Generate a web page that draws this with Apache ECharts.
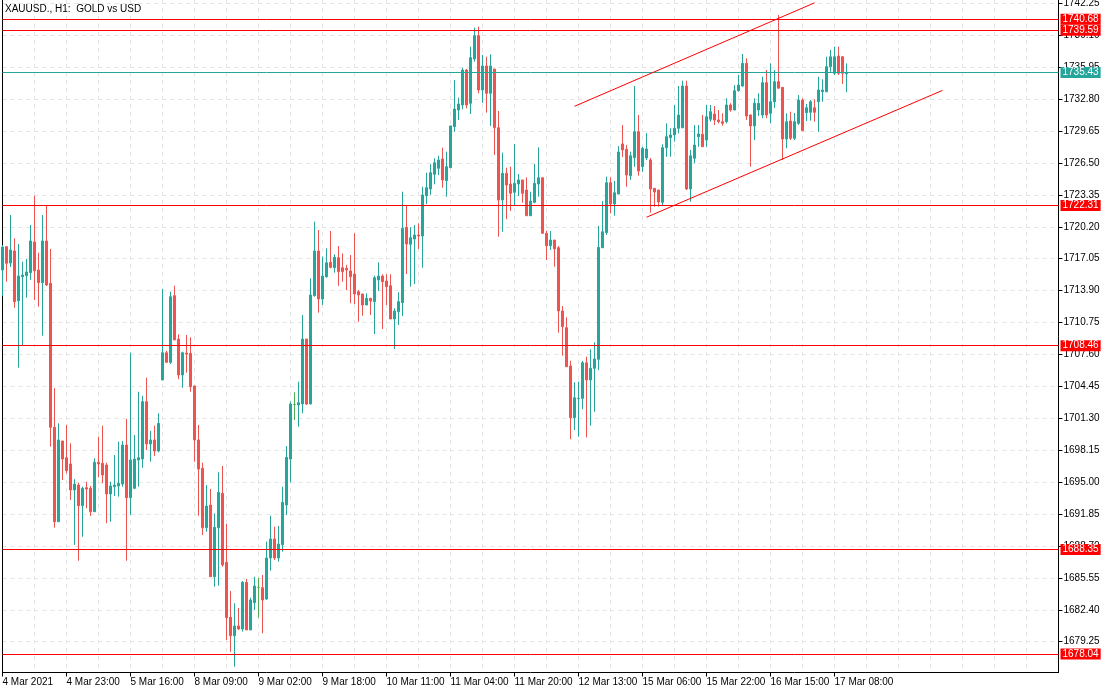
<!DOCTYPE html>
<html><head><meta charset="utf-8">
<script src="https://cdn.jsdelivr.net/npm/echarts@6/dist/echarts.min.js"></script>
<style>html,body{margin:0;padding:0;background:#fff}#c{width:1110px;height:694px}</style>
</head><body><div id="c"></div>
<script>
// XAUUSD H1 candles: open, close, low, high
const opens = [
1715.93,1718.23,1716.62,1717.81,1712.90,1715.27,1715.37,1715.67,1718.70,1715.93,
1714.68,1718.80,1714.62,1700.41,1691.09,1699.06,1697.41,1696.79,1694.22,1694.71,
1692.67,1694.45,1694.39,1692.08,1696.96,1696.86,1696.69,1693.83,1694.55,1694.62,
1694.81,1698.66,1693.46,1694.39,1697.18,1697.28,1702.94,1698.76,1699.16,1698.07,
1705.08,1707.77,1706.82,1713.40,1709.12,1705.57,1707.74,1707.71,1704.49,1699.16,
1696.36,1690.50,1692.74,1685.66,1690.50,1693.90,1687.09,1681.66,1679.84,1680.80,
1680.50,1685.11,1680.41,1683.10,1684.62,1684.58,1683.46,1687.51,1689.39,1687.51,
1688.82,1692.74,1697.28,1702.66,1702.61,1702.71,1709.12,1702.71,1713.40,1717.81,
1713.07,1715.27,1716.69,1716.16,1717.15,1716.16,1716.10,1715.84,1715.54,1713.79,
1713.57,1712.48,1713.14,1712.81,1714.95,1715.34,1714.85,1714.38,1711.10,1711.82,
1712.71,1720.15,1718.47,1718.99,1719.39,1719.29,1723.27,1723.93,1725.38,1725.97,
1726.89,1724.75,1726.03,1730.08,1731.72,1732.22,1735.67,1732.39,1736.76,1739.06,
1733.70,1736.07,1733.37,1735.77,1729.98,1722.84,1725.48,1724.42,1723.60,1724.42,
1724.82,1723.83,1721.29,1722.61,1724.42,1725.04,1719.56,1718.33,1718.89,1718.13,
1711.89,1710.24,1706.46,1701.36,1703.23,1703.27,1706.78,1705.08,1706.23,1707.12,
1718.13,1719.62,1724.55,1722.45,1723.43,1728.37,1727.85,1725.24,1727.02,1729.58,
1726.13,1726.99,1726.79,1723.99,1723.83,1722.61,1728.00,1728.99,1729.26,1729.92,
1729.98,1734.09,1723.93,1726.96,1729.09,1729.33,1728.76,1730.81,1731.33,1730.74,
1730.57,1730.57,1732.22,1731.72,1733.63,1734.09,1736.33,1731.23,1730.15,1731.72,
1731.23,1734.42,1731.40,1732.54,1734.52,1733.96,1728.86,1730.64,1728.93,1730.41,
1732.71,1731.46,1731.50,1731.95,1732.54,1733.53,1733.53,1736.00,1735.35,1737.05,
1736.98,1735.30];
const closes = [
1718.20,1716.59,1717.91,1712.81,1715.34,1715.44,1715.74,1718.80,1715.86,1714.68,
1718.80,1714.45,1700.41,1691.09,1699.16,1697.28,1696.13,1694.22,1694.81,1692.67,
1694.39,1694.32,1692.08,1696.96,1696.79,1695.70,1693.83,1694.62,1694.71,1694.88,
1698.66,1693.46,1697.18,1697.28,1697.41,1702.94,1698.76,1699.16,1698.07,1700.80,
1707.77,1706.82,1713.30,1709.03,1705.57,1707.77,1707.64,1704.42,1699.16,1696.29,
1690.50,1692.64,1685.66,1690.54,1693.99,1686.82,1681.62,1679.84,1680.80,1680.50,
1685.11,1680.41,1683.37,1684.75,1684.62,1683.37,1687.51,1689.39,1687.51,1688.89,
1693.01,1697.45,1702.71,1702.66,1702.84,1709.12,1702.71,1713.47,1717.81,1713.07,
1715.34,1716.65,1716.20,1717.19,1715.77,1715.77,1715.93,1715.27,1713.57,1713.47,
1712.48,1713.14,1712.87,1715.17,1715.34,1714.78,1714.29,1711.10,1711.89,1712.81,
1720.05,1718.50,1719.12,1719.39,1719.29,1723.34,1724.06,1725.54,1726.52,1726.79,
1724.82,1726.13,1730.15,1731.82,1732.32,1735.67,1732.22,1736.89,1739.06,1733.70,
1736.07,1733.37,1736.07,1729.98,1722.84,1725.48,1724.32,1723.50,1724.49,1724.82,
1723.50,1721.29,1722.74,1724.49,1725.04,1719.56,1718.33,1718.89,1718.01,1711.89,
1710.34,1706.39,1701.36,1703.33,1703.27,1706.78,1705.08,1706.23,1707.15,1718.17,
1719.71,1724.55,1722.45,1723.56,1727.58,1727.78,1725.31,1727.21,1729.58,1725.70,
1727.94,1727.88,1723.93,1723.63,1722.65,1728.00,1729.09,1729.26,1729.92,1731.23,
1734.09,1723.93,1727.21,1728.27,1729.36,1728.10,1731.06,1731.56,1730.74,1730.57,
1730.41,1732.22,1731.72,1733.63,1734.19,1736.33,1731.13,1730.15,1732.39,1732.39,
1734.42,1731.23,1732.54,1734.52,1733.87,1728.86,1730.57,1728.93,1730.57,1732.71,
1729.68,1731.95,1732.54,1731.50,1733.70,1733.70,1736.00,1736.98,1736.98,1735.35,
1735.35,1735.43];
const lows = [
1713.37,1714.78,1716.23,1712.21,1706.29,1708.53,1713.20,1714.95,1712.97,1712.31,
1709.45,1714.35,1698.50,1690.50,1691.09,1695.21,1695.87,1693.24,1688.80,1687.24,
1689.61,1692.42,1691.66,1692.08,1695.47,1694.88,1690.94,1691.09,1693.63,1693.56,
1694.55,1687.24,1691.76,1694.29,1694.55,1696.42,1698.17,1697.01,1697.58,1697.94,
1705.08,1706.78,1706.66,1709.03,1705.15,1704.32,1705.80,1703.92,1697.01,1691.69,
1689.78,1690.11,1685.66,1684.68,1684.78,1686.65,1679.42,1678.26,1676.78,1680.41,
1680.24,1680.41,1680.41,1682.38,1681.62,1680.08,1683.37,1686.26,1687.31,1687.15,
1688.13,1691.76,1694.98,1701.13,1700.47,1701.79,1702.61,1702.71,1713.30,1711.72,
1712.48,1715.17,1716.10,1715.67,1714.38,1714.78,1713.96,1712.65,1712.58,1710.83,
1711.42,1712.48,1711.49,1709.62,1713.86,1710.11,1712.48,1711.10,1708.14,1710.51,
1711.39,1715.54,1714.29,1714.55,1718.01,1716.16,1722.45,1723.34,1724.39,1725.31,
1724.06,1723.17,1726.00,1729.58,1730.74,1731.79,1731.89,1731.33,1736.49,1733.37,
1732.44,1731.46,1730.15,1727.28,1719.22,1719.71,1720.94,1721.76,1722.35,1723.24,
1722.58,1721.29,1721.29,1722.52,1723.17,1719.56,1716.92,1717.91,1716.26,1709.75,
1707.48,1706.39,1699.23,1700.14,1699.48,1702.19,1699.42,1700.57,1701.95,1706.07,
1718.13,1719.39,1721.53,1721.29,1723.43,1727.09,1724.15,1724.82,1726.13,1725.24,
1725.63,1726.79,1721.59,1722.18,1722.18,1722.35,1727.11,1727.11,1728.60,1729.42,
1729.92,1723.83,1722.67,1726.46,1728.10,1728.10,1728.10,1730.57,1730.24,1730.41,
1730.17,1730.41,1731.56,1731.72,1733.53,1734.02,1730.74,1726.13,1728.76,1731.13,
1730.91,1730.91,1730.41,1731.92,1733.87,1726.79,1727.94,1728.76,1728.76,1730.24,
1729.68,1730.64,1730.67,1730.57,1729.58,1732.54,1733.47,1735.50,1735.18,1735.18,
1734.29,1733.47];
const highs = [
1718.40,1718.30,1721.36,1719.06,1718.50,1716.75,1717.02,1720.37,1723.27,1717.64,
1721.36,1722.28,1718.01,1704.26,1700.80,1699.06,1700.64,1698.83,1695.28,1694.94,
1694.55,1695.04,1694.62,1697.35,1699.48,1700.57,1696.92,1695.04,1697.67,1698.99,
1699.06,1701.23,1707.77,1699.65,1703.92,1703.53,1705.30,1700.05,1700.57,1701.79,
1714.06,1707.97,1713.79,1714.38,1709.59,1707.87,1709.52,1709.29,1704.49,1700.64,
1696.92,1694.71,1694.32,1691.92,1695.97,1696.59,1690.87,1684.25,1683.04,1682.58,
1685.24,1685.44,1683.59,1685.66,1685.54,1685.83,1689.12,1691.69,1690.60,1690.67,
1694.55,1698.56,1702.94,1703.86,1704.91,1711.49,1709.12,1715.11,1720.70,1719.88,
1717.25,1718.07,1719.78,1717.48,1718.30,1717.58,1716.43,1717.41,1719.56,1713.96,
1713.57,1713.63,1713.14,1715.37,1716.69,1715.51,1715.51,1715.51,1712.15,1713.73,
1723.66,1722.28,1720.15,1720.37,1720.54,1724.15,1725.54,1726.37,1726.96,1727.21,
1728.00,1727.61,1730.15,1734.69,1732.94,1735.90,1735.77,1737.97,1739.85,1739.95,
1737.15,1736.98,1737.22,1735.77,1731.63,1727.51,1726.03,1726.13,1728.37,1725.41,
1724.82,1725.08,1723.66,1726.39,1728.04,1725.04,1719.81,1719.78,1718.89,1718.30,
1712.38,1711.27,1706.98,1704.85,1704.91,1706.95,1707.38,1708.11,1708.80,1720.28,
1722.74,1725.14,1725.08,1724.72,1728.17,1730.24,1728.27,1727.61,1734.09,1731.23,
1728.10,1729.45,1726.99,1724.03,1723.83,1728.34,1730.41,1729.92,1732.22,1734.09,
1734.62,1734.62,1727.78,1730.24,1730.24,1731.23,1732.22,1732.22,1732.12,1731.72,
1731.40,1732.88,1732.39,1734.19,1735.18,1737.25,1736.83,1731.30,1732.88,1733.37,
1735.01,1735.67,1736.33,1735.67,1741.10,1733.96,1731.40,1731.56,1731.43,1733.20,
1732.88,1732.32,1732.71,1732.78,1735.01,1734.76,1736.98,1737.65,1737.97,1737.97,
1737.05,1736.33];

const slotCount = 265; // bar slots on the time axis (incl. empty right margin)
const xTickIndex = [0,16,32,48,64,80,96,112,128,144,160,176,192,208];
const xTickLabels = ['4 Mar 2021','4 Mar 23:00','5 Mar 16:00','8 Mar 09:00','9 Mar 02:00','9 Mar 18:00',
  '10 Mar 11:00','11 Mar 04:00','11 Mar 20:00','12 Mar 13:00','15 Mar 06:00','15 Mar 22:00','16 Mar 15:00','17 Mar 08:00'];
const yTicks = [1679.25,1682.40,1685.55,1688.70,1691.85,1695.00,1698.15,1701.30,1704.45,1707.60,1710.75,
  1713.90,1717.05,1720.20,1723.35,1726.50,1729.65,1732.80,1735.95,1739.10,1742.25];
const redLevels = [1740.68,1739.59,1722.31,1708.46,1688.35,1678.04];
const bidLevel = 1735.43;
const channelUpper = [[143,1732.09],[203,1742.30]];
const channelLower = [[161,1721.14],[235,1733.66]];

const UP = '#26a69a', DOWN = '#ef5350', DOJI = '#4caf50', RED = '#ff0000';
const FONT = 'Liberation Sans';

const categories = Array.from({length: slotCount}, (_, i) => String(i));
const candles = opens.map((o, i) => {
  const v = [o, closes[i], lows[i], highs[i]];
  if (o === closes[i]) {
    return {value: v, itemStyle: {color: DOJI, color0: DOJI, borderColor: DOJI, borderColor0: DOJI, borderColorDoji: DOJI}};
  }
  return v;
});

const levelLine = (v, color) => ({
  yAxis: v,
  lineStyle: {color: color, width: 1, type: 'solid'},
  label: {show: true, position: 'end', distance: 2, formatter: () => v.toFixed(2),
    color: '#fff', backgroundColor: color, padding: [1, 2, 0, 2], fontSize: 10, fontFamily: FONT}
});
const trend = (pts) => [
  {coord: pts[0], lineStyle: {color: RED, width: 1, type: 'solid'}, label: {show: false}},
  {coord: pts[1]}
];

const chart = echarts.init(document.getElementById('c'), null, {renderer: 'canvas'});
chart.setOption({
  animation: false,
  backgroundColor: '#fff',
  title: {text: 'XAUUSD., H1:  GOLD vs USD', left: 5, top: 4, padding: 0,
    textStyle: {fontSize: 10, fontWeight: 'normal', color: '#000', fontFamily: FONT}},
  grid: {left: 2.5, right: 51.5, top: 0, bottom: 21.5, containLabel: false, outerBoundsMode: 'none'},
  xAxis: {
    type: 'category', data: categories, boundaryGap: false,
    axisLine: {show: true, lineStyle: {color: '#000', width: 1}},
    axisTick: {show: true, length: 4, interval: (i) => xTickIndex.includes(i), lineStyle: {color: '#000'}},
    axisLabel: {show: true, interval: (i) => xTickIndex.includes(i), align: 'left', margin: 5,
      color: '#000', fontSize: 10, fontFamily: FONT, hideOverlap: false,
      formatter: (v, i) => { const k = xTickIndex.indexOf(i); return k >= 0 ? xTickLabels[k] : ''; }},
    splitLine: {show: true, interval: (i) => i % 8 === 0, lineStyle: {color: '#e4e4e4', type: [4, 4], width: 1}}
  },
  yAxis: [{
    type: 'value', position: 'right', min: 1676.21, max: 1742.58, scale: true,
    axisLine: {show: true, lineStyle: {color: '#000', width: 1}},
    axisTick: {show: true, length: 4, customValues: yTicks, lineStyle: {color: '#000'}},
    axisLabel: {show: true, customValues: yTicks, margin: 5, color: '#000', fontSize: 10, fontFamily: FONT,
      formatter: (v) => v.toFixed(2)},
    splitLine: {show: true, lineStyle: {color: '#e4e4e4', type: [4, 4], width: 1}}
  }, {
    type: 'value', position: 'left', min: 1676.21, max: 1742.58,
    axisLine: {show: true, onZero: false, lineStyle: {color: '#000', width: 1}},
    axisTick: {show: false}, axisLabel: {show: false}, splitLine: {show: false}
  }],
  series: [{
    type: 'candlestick', data: candles, barWidth: 2, silent: true,
    itemStyle: {color: UP, color0: DOWN, borderColor: UP, borderColor0: DOWN, borderWidth: 1},
    markLine: {
      silent: true, symbol: ['none', 'none'], animation: false,
      data: [
        ...redLevels.map(v => levelLine(v, RED)),
        levelLine(bidLevel, UP),
        trend(channelUpper),
        trend(channelLower)
      ]
    }
  }]
});
</script></body></html>
